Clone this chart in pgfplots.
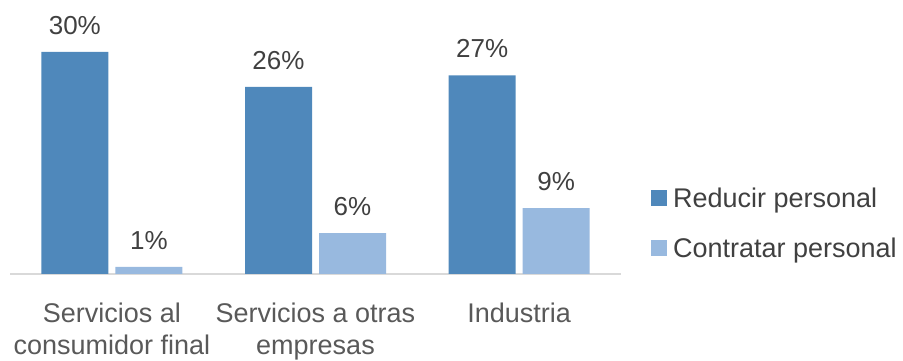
\documentclass[border=0pt]{standalone}
\usepackage{pgfplots}
\pgfplotsset{compat=1.18}
\usepackage{fontspec}
\setmainfont{Liberation Sans}
\definecolor{barA}{HTML}{4F88BB}
\definecolor{barB}{HTML}{98B9DF}
\definecolor{txt}{HTML}{404040}
\definecolor{lbl}{HTML}{595959}
\definecolor{axl}{HTML}{D9D9D9}
\begin{document}
\begin{tikzpicture}[x=1pt,y=1pt]
\useasboundingbox (0,0) rectangle (903,361);
\begin{axis}[
  at={(10pt,87pt)}, anchor=south west, scale only axis,
  width=611pt, height=274pt,
  xmin=-0.5, xmax=2.5, ymin=0, ymax=37.5,
  ybar=7pt, bar width=67pt,
  axis x line*=bottom, axis y line=none,
  x axis line style={axl, line width=1.5pt, -},
  xtick={0,1,2}, major tick length=0pt,
  xticklabels={{Servicios al\\consumidor final},{Servicios a otras\\empresas},{Industria}},
  xticklabel style={font=\fontsize{27}{32}\selectfont, align=center, text=lbl, anchor=north, inner sep=0pt, yshift=-29pt},
  /pgf/number format/assume math mode=true,
  nodes near coords={\pgfmathprintnumber[fixed,precision=0,assume math mode=true]{\pgfplotspointmeta}\%},
  every node near coord/.append style={font=\fontsize{26}{30}\selectfont, text=txt, anchor=south, inner sep=0pt, yshift=17pt},
  legend style={at={(1.049,0.175)}, anchor=west, draw=none, fill=none, inner sep=0pt,
    font=\fontsize{27}{32}\selectfont, text=txt, row sep=25pt, column sep=6pt,
    nodes={inner sep=0pt, text height=19pt, text depth=6pt}},
  legend cell align=left,
  legend image code/.code={\fill[#1] (0pt,-5pt) rectangle (16pt,11pt);},
]
\addplot[fill=barA, draw=none] coordinates {(0,30.4) (1,25.6) (2,27.2)};
\addplot[fill=barB, draw=none] coordinates {(0,0.96) (1,5.6) (2,9.0)};
\legend{Reducir personal, Contratar personal}
\end{axis}
\end{tikzpicture}
\end{document}
